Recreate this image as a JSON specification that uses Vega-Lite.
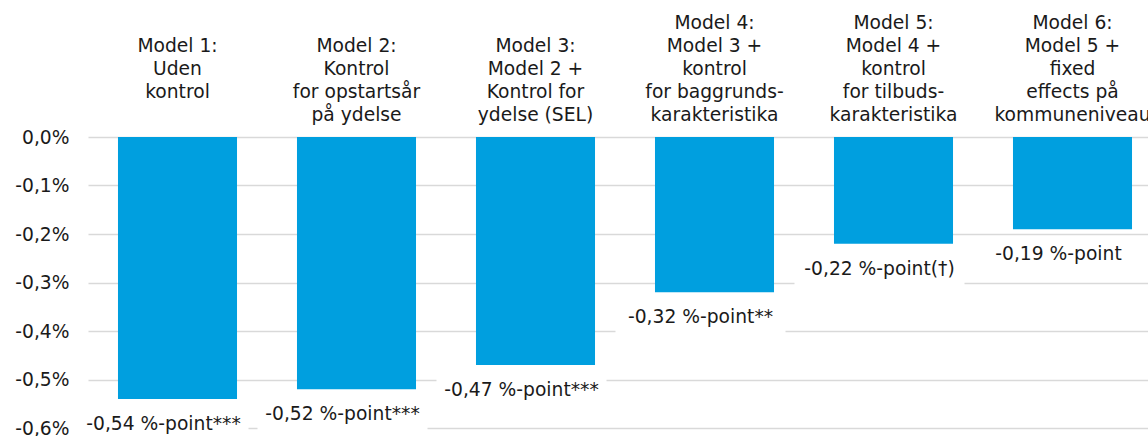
{
  "$schema": "https://vega.github.io/schema/vega-lite/v6.json",
  "width": 1074,
  "height": 291,
  "autosize": {"type": "none"},
  "padding": {"left": 88, "top": 137, "right": 0, "bottom": 8},
  "background": "white",
  "config": {
    "font": "DejaVu Sans",
    "view": {"stroke": null},
    "axis": {"labelFont": "DejaVu Sans", "labelFontSize": 18.7, "labelColor": "#1a1a1a"}
  },
  "data": {
    "values": [
      {"model": "Model 1:|Uden|kontrol", "effect": -0.54, "sig": "***"},
      {"model": "Model 2:|Kontrol|for opstartsår|på ydelse", "effect": -0.52, "sig": "***"},
      {"model": "Model 3:|Model 2 +|Kontrol for|ydelse (SEL)", "effect": -0.47, "sig": "***"},
      {"model": "Model 4:|Model 3 +|kontrol|for baggrunds-|karakteristika", "effect": -0.32, "sig": "**"},
      {"model": "Model 5:|Model 4 +|kontrol|for tilbuds-|karakteristika", "effect": -0.22, "sig": "(†)"},
      {"model": "Model 6:|Model 5 +|fixed|effects på|kommuneniveau", "effect": -0.19, "sig": ""}
    ]
  },
  "transform": [
    {"calculate": "replace(replace(format(datum.effect, '.2f'), '.', ','), '−', '-') + ' %-point' + datum.sig", "as": "label"}
  ],
  "encoding": {
    "x": {
      "field": "model",
      "type": "nominal",
      "sort": null,
      "scale": {"paddingInner": 0.335, "paddingOuter": 0.1675},
      "axis": {
        "orient": "top",
        "title": null,
        "domain": false,
        "ticks": false,
        "labelAngle": 0,
        "labelBaseline": "top",
        "labelPadding": 124,
        "labelLineHeight": 23,
        "labelLimit": 0,
        "labelOverlap": false,
        "labelExpr": "split((length(split(datum.label, '|')) == 3 ? '||' : length(split(datum.label, '|')) == 4 ? '|' : '') + datum.label, '|')"
      }
    },
    "y": {
      "field": "effect",
      "type": "quantitative",
      "scale": {"domain": [-0.6, 0], "nice": false},
      "axis": {
        "title": null,
        "values": [0, -0.1, -0.2, -0.3, -0.4, -0.5, -0.6],
        "domain": false,
        "ticks": false,
        "labelPadding": 19,
        "labelExpr": "replace(replace(format(datum.value, '.1f'), '.', ','), '−', '-') + '%'",
        "gridColor": "#d9d9d9",
        "gridWidth": 1.5
      }
    }
  },
  "layer": [
    {"mark": {"type": "bar", "color": "#009FDF"}},
    {
      "mark": {"type": "bar", "color": "white", "width": 170, "xOffset": -14, "yOffset": 8, "y2Offset": 42},
      "encoding": {"y2": {"field": "effect"}}
    },
    {
      "mark": {"type": "text", "dx": -14, "dy": 25, "baseline": "middle", "fontSize": 18.7, "color": "#1a1a1a"},
      "encoding": {"text": {"field": "label"}}
    }
  ]
}
